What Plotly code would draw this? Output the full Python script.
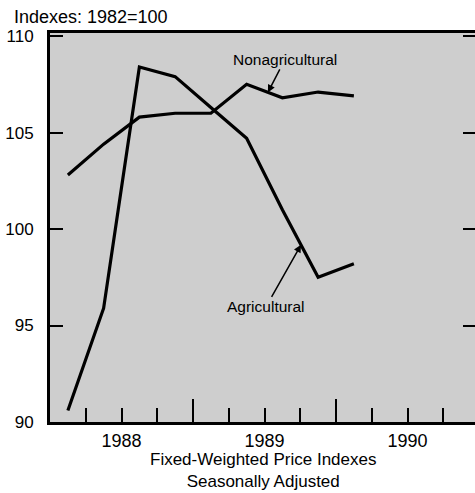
import numpy as np
import plotly.graph_objects as go

# ---- data ----
quarters = ["1988-Q1", "1988-Q2", "1988-Q3", "1988-Q4",
            "1989-Q1", "1989-Q2", "1989-Q3", "1989-Q4", "1990-Q1"]
agricultural = [90.6, 95.9, 108.4, 107.9, 106.3, 104.7, 101.0, 97.5, 98.2]
nonagricultural = [102.8, 104.4, 105.8, 106.0, 106.0, 107.5, 106.8, 107.1, 106.9]
year_labels = ["1988", "1989", "1990"]
year_label_pos = [1988.5, 1989.5, 1990.5]
y_ticks = [90, 95, 100, 105, 110]

# quarter midpoints on a continuous year scale
xq = [int(q[:4]) + (int(q[-1]) - 0.5) / 4 for q in quarters]

FONT = "Liberation Sans, Arial, Helvetica, sans-serif"

fig = go.Figure()
fig.add_trace(go.Scatter(x=xq, y=nonagricultural, mode="lines",
                         line=dict(color="black", width=3.2), name="Nonagricultural",
                         showlegend=False))
fig.add_trace(go.Scatter(x=xq, y=agricultural, mode="lines",
                         line=dict(color="black", width=3.2), name="Agricultural",
                         showlegend=False))

XR = [1988.0, 1990.972]
YR = [90.0, 110.16]

# arrow heads placed on the lines by interpolating the data
xa_non = 1989.524
ya_non = float(np.interp(xa_non, xq, nonagricultural))
xa_agr = 1989.755
ya_agr = float(np.interp(xa_agr, xq, agricultural))

fig.update_layout(
    width=475, height=493, autosize=False,
    margin=dict(l=50, r=0, t=33, b=71, autoexpand=False),
    paper_bgcolor="white",
    plot_bgcolor="#cecece",
    font=dict(family=FONT, color="black"),
    xaxis=dict(range=XR, tickmode="linear", tick0=1988, dtick=1,
               ticks="inside", ticklen=23, tickwidth=2, tickcolor="black",
               minor=dict(tickmode="linear", tick0=1988, dtick=0.25, ticks="inside",
                          ticklen=14, tickwidth=2, tickcolor="black"),
               showticklabels=False, showgrid=False, zeroline=False,
               showline=True, linecolor="black", linewidth=3, mirror=True,
               automargin=False),
    xaxis2=dict(range=XR, overlaying="x", side="bottom", tickmode="array",
                tickvals=year_label_pos, ticktext=year_labels, ticks="",
                tickfont=dict(size=18), ticklabelstandoff=6,
                showgrid=False, zeroline=False, showline=False, automargin=False),
    yaxis=dict(range=YR, tickmode="array", tickvals=y_ticks,
               ticktext=[str(v) for v in y_ticks],
               ticks="inside", ticklen=13, tickwidth=2, tickcolor="black",
               tickfont=dict(size=17), ticklabelstandoff=10,
               showgrid=False, zeroline=False,
               showline=True, linecolor="black", linewidth=3, automargin=False),
    yaxis2=dict(range=YR, overlaying="y", side="right", tickmode="array",
                tickvals=y_ticks, ticks="inside", ticklen=12, tickwidth=2,
                tickcolor="black", showticklabels=False, showgrid=False,
                zeroline=False, showline=False, automargin=False),
    annotations=[
        dict(text="Indexes: 1982=100", xref="paper", yref="paper",
             x=-0.0894, y=1.041, xanchor="left", yanchor="middle",
             showarrow=False, font=dict(size=18)),
        dict(text="Fixed-Weighted Price Indexes<br>Seasonally Adjusted",
             xref="paper", yref="paper", x=0.5, y=-0.1795,
             xanchor="center", yanchor="bottom", align="center",
             borderpad=0, showarrow=False, font=dict(size=17)),
        dict(text="Nonagricultural", x=xa_non, y=ya_non, xref="x", yref="y",
             ax=17, ay=-33, showarrow=True, arrowhead=2, arrowsize=1,
             arrowwidth=1.5, arrowcolor="black", standoff=0,
             font=dict(size=15.5)),
        dict(text="Agricultural", x=xa_agr, y=ya_agr, xref="x", yref="y",
             ax=-35, ay=62, showarrow=True, arrowhead=2, arrowsize=1,
             arrowwidth=1.5, arrowcolor="black", standoff=0,
             font=dict(size=15.5)),
    ],
)

# invisible anchor trace so the overlay axes (labels / right ticks) are drawn
fig.add_trace(go.Scatter(x=[XR[0]], y=[YR[0]], xaxis="x2", yaxis="y2",
                         mode="markers", marker=dict(opacity=0),
                         hoverinfo="skip", showlegend=False))

fig.write_html("out.html", config={"responsive": False, "displayModeBar": False},
               default_width="475px", default_height="493px",
               post_script="document.body.style.margin='0px';"
                           "document.body.style.overflow='hidden';")
